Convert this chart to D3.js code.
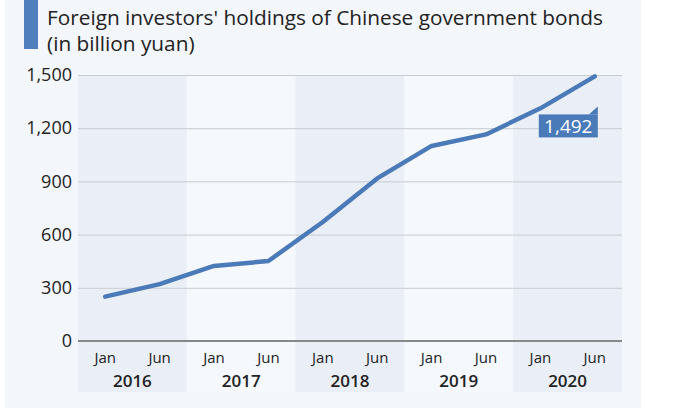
<!DOCTYPE html>
<html>
<head>
<meta charset="utf-8">
<script src="https://cdn.jsdelivr.net/npm/d3@7"></script>
<style>
  body { margin: 0; background: #fff; font-family: "Open Sans", sans-serif; }
  svg text { font-family: "Open Sans", sans-serif; }
</style>
</head>
<body>
<div id="chart"></div>
<script>
// Data
const years = ["2016", "2017", "2018", "2019", "2020"];
const months = ["Jan", "Jun"];
const values = [250, 321, 423, 451, 671, 917, 1100, 1165, 1312, 1492];
const yTicks = [0, 300, 600, 900, 1200, 1500];

const W = 677, H = 408;
const margin = { top: 75, right: 55, bottom: 67, left: 78 },
    width = W - margin.left - margin.right,
    height = H - margin.top - margin.bottom;

const root = d3.select("#chart").append("svg")
    .attr("width", W)
    .attr("height", H);

// panel background
root.append("rect")
    .attr("x", 5).attr("y", 0)
    .attr("width", 636).attr("height", H)
    .attr("fill", "#f3f6fa");

// title
root.append("rect")
    .attr("x", 24).attr("y", 0)
    .attr("width", 14).attr("height", 49)
    .attr("fill", "#4f7fbd");

const title = root.append("text")
    .attr("x", 47)
    .attr("y", 25)
    .style("font-size", "20.8px")
    .style("fill", "#222");
title.append("tspan").attr("x", 47).text("Foreign investors' holdings of Chinese government bonds");
title.append("tspan").attr("x", 47).attr("dy", 26).text("(in billion yuan)");

const svg = root.append("g")
    .attr("transform", `translate(${margin.left},${margin.top})`);

// scales
const points = years.flatMap(y => months.map(m => y + "-" + m));
const x = d3.scaleBand().domain(points).range([0, width]);
const xYear = d3.scaleBand().domain(years).range([0, width]);
const y = d3.scaleLinear().domain([0, 1500]).range([height, 0]);

// year bands (alternating shades)
svg.selectAll(".band")
    .data(years)
    .enter().append("rect")
    .attr("class", "band")
    .attr("x", d => xYear(d))
    .attr("y", 0)
    .attr("width", xYear.bandwidth())
    .attr("height", height + 51)
    .attr("fill", (d, i) => i % 2 === 0 ? "#eaeef6" : "#f5f8fc");

// gridlines
svg.append("g")
    .call(d3.axisLeft(y).tickValues(yTicks).tickSize(-width).tickFormat(d3.format(",")))
    .call(g => g.select(".domain").remove())
    .call(g => g.selectAll(".tick line").attr("stroke", "#c8cbcf").attr("stroke-width", 1))
    .call(g => g.selectAll(".tick text")
        .attr("x", -6)
        .style("font-size", "18px")
        .style("fill", "#222"));

// x axis baseline
svg.append("line")
    .attr("x1", 0).attr("x2", width)
    .attr("y1", y(0)).attr("y2", y(0))
    .attr("stroke", "#888")
    .attr("stroke-width", 2);

// month labels
svg.selectAll(".month")
    .data(points)
    .enter().append("text")
    .attr("class", "month")
    .attr("x", d => x(d) + x.bandwidth() / 2)
    .attr("y", height + 22)
    .attr("text-anchor", "middle")
    .style("font-size", "15px")
    .style("fill", "#222")
    .text(d => d.split("-")[1]);

// year labels
svg.selectAll(".year")
    .data(years)
    .enter().append("text")
    .attr("class", "year")
    .attr("x", d => xYear(d) + xYear.bandwidth() / 2)
    .attr("y", height + 46)
    .attr("text-anchor", "middle")
    .style("font-size", "17px")
    .style("font-weight", "600")
    .style("fill", "#222")
    .text(d => d);

// line
const line = d3.line()
    .x((d, i) => x(points[i]) + x.bandwidth() / 2)
    .y(d => y(d));

svg.append("path")
    .datum(values)
    .attr("d", line)
    .attr("fill", "none")
    .attr("stroke", "#4a7ab8")
    .attr("stroke-width", 4.5)
    .attr("stroke-linecap", "round")
    .attr("stroke-linejoin", "round");

// last value label
const last = values[values.length - 1];
const lx = x(points[points.length - 1]) + x.bandwidth() / 2;
const ly = y(last);
const bx = lx + 3, by = ly + 38;
const lab = svg.append("g").attr("transform", `translate(${bx},${by})`);
lab.append("rect")
    .attr("x", -59).attr("y", 0)
    .attr("width", 59).attr("height", 23)
    .attr("fill", "#4a7ab8");
lab.append("path")
    .attr("d", "M-9,0 L0,-8 L0,0 Z")
    .attr("fill", "#4a7ab8");
lab.append("text")
    .attr("x", -29.5)
    .attr("y", 18.5)
    .attr("text-anchor", "middle")
    .style("font-size", "19px")
    .style("fill", "#fff")
    .text(d3.format(",")(last));
</script>
</body>
</html>
